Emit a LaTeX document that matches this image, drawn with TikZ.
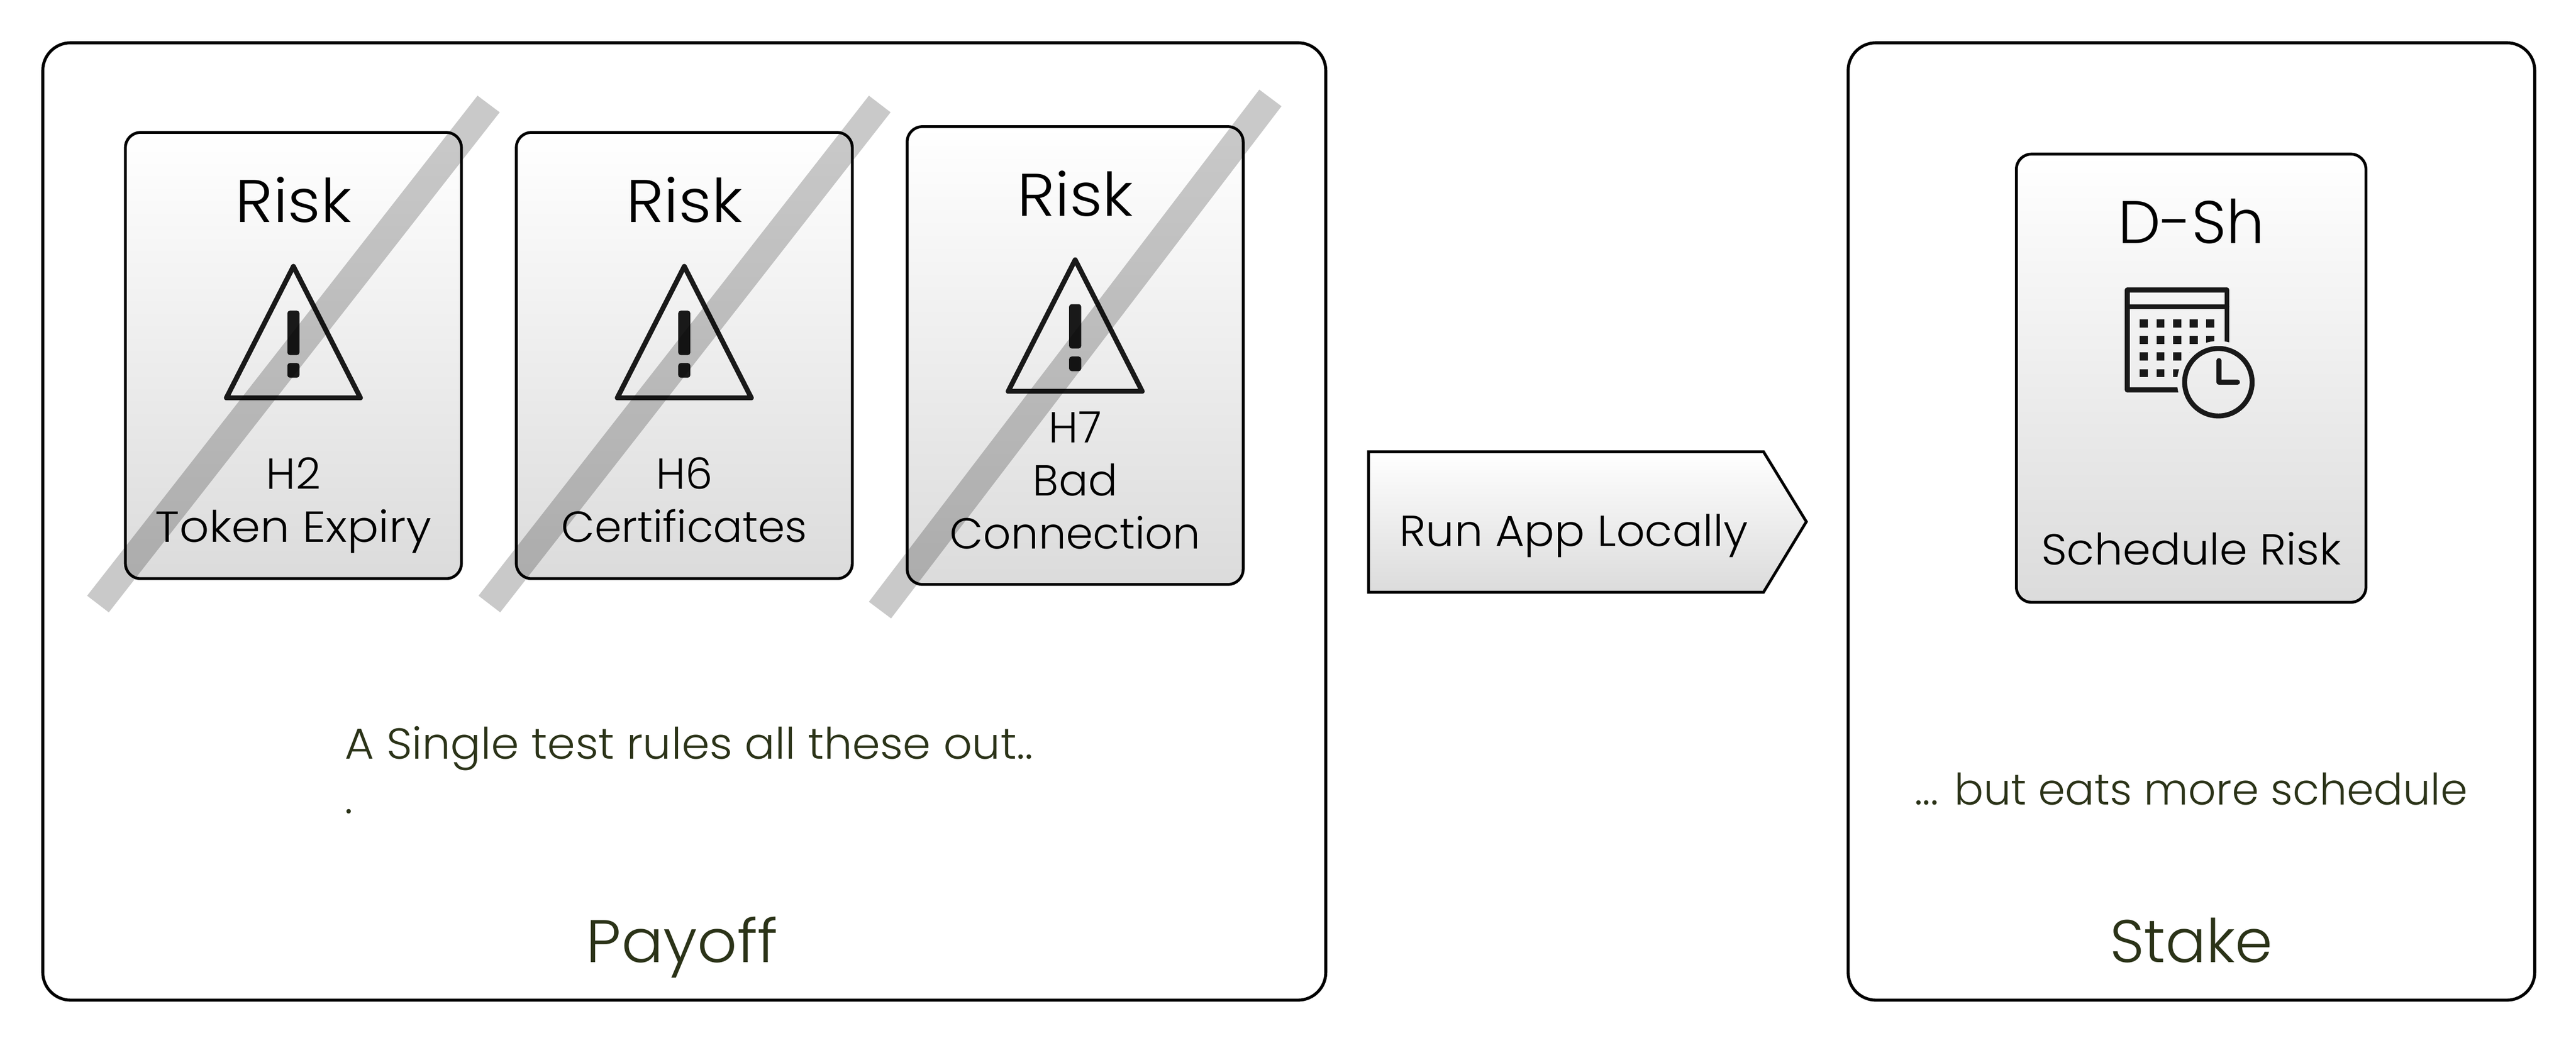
\documentclass[tikz,border=0pt]{standalone}
\usepackage{fontspec}
\setmainfont{Poppins Light}
\newfontfamily\wideface{Poppins Light}[FakeStretch=1.07]
\newfontfamily\midface{Poppins Light}[FakeStretch=1.035]
\usetikzlibrary{positioning}
\definecolor{olivetext}{HTML}{2B3318}
\tikzset{
  panel/.style={draw=black, line width=1.7pt, rounded corners=0.55cm},
  card/.style={draw=black, line width=1.6pt, rounded corners=0.3cm, top color=white, bottom color=black!14, minimum width=6.67cm},
  strike/.style={fill=black, fill opacity=0.21},
  icon/.style={draw=black!90, line width=2.8pt, line join=round, line cap=round},
  head/.style={font=\fontsize{34}{40}\selectfont, anchor=base},
  body/.style={font=\fontsize{24.5}{30}\selectfont, anchor=base, align=center},
  note/.style={font=\fontsize{24.5}{30}\selectfont, text=olivetext, anchor=base west, inner sep=0pt},
  caption/.style={font=\fontsize{34}{40}\selectfont, text=olivetext, anchor=base}
}
\begin{document}
\begin{tikzpicture}
  \useasboundingbox (0,0) rectangle (51.14,20.71);
  % outer boxes
  \node[panel, minimum width=25.47cm, minimum height=19.01cm] (payoffbox) at (13.585,10.355) {};
  \node[panel, minimum width=13.63cm, minimum height=19.01cm] (stakebox) at (43.505,10.355) {};
  % risk cards
  \foreach \n/\cx/\h in {1/5.825/8.86, 2/13.585/8.86, 3/21.345/9.09}{
    \node[card, minimum height=\h cm] (risk\n) at (\cx,13.65) {};
  }
  \node[head] (risklabel1) at (5.825,16.3) {\wideface Risk};
  \node[head] (risklabel2) at (13.585,16.3) {\wideface Risk};
  \node[head] (risklabel3) at (21.345,16.42) {\wideface Risk};
  \node[body] (hyp1) at (5.825,9.94) {H2\\\wideface Token Expiry};
  \node[body] (hyp2) at (13.585,9.94) {H6\\Certificates};
  \node[body] (hyp3) at (21.345,9.81) {H7\\Bad\\Connection};
  % warning triangles
  \foreach \cx/\dy in {5.825/0, 13.585/0, 21.345/0.13}{
    \begin{scope}[shift={(\cx,\dy)}]
      \draw[icon] (0,15.42) -- (-1.33,12.81) -- (1.33,12.81) -- cycle;
      \fill[black!90, rounded corners=0.05cm] (-0.12,14.54) rectangle (0.12,13.66);
      \fill[black!90, rounded corners=0.05cm] (-0.12,13.5) rectangle (0.12,13.21);
    \end{scope}
  }
  % strike bars
  \fill[strike] (9.48,18.81) -- (9.92,18.48) -- (2.16,8.55) -- (1.73,8.88) -- cycle;
  \fill[strike] (17.25,18.81) -- (17.68,18.48) -- (9.93,8.55) -- (9.5,8.88) -- cycle;
  \fill[strike] (25.0,18.93) -- (25.44,18.6) -- (17.69,8.43) -- (17.25,8.76) -- cycle;
  % arrow in the middle
  \draw[line width=1.6pt, top color=white, bottom color=black!14] (27.17,11.74) -- (35.01,11.74) -- (35.86,10.35) -- (35.01,8.95) -- (27.17,8.95) -- cycle;
  \node[body, anchor=base west, inner sep=0pt] (runapp) at (27.78,9.86) {\midface Run App Locally};
  % schedule card
  \node[card, minimum width=6.94cm, minimum height=8.9cm] (dsh) at (43.5,13.2) {};
  \node[head] (dshlabel) at (43.5,15.88) {D-Sh};
  \node[body] (schedrisk) at (43.5,9.5) {\midface Schedule Risk};
  % calendar with the clock cut out
  \begin{scope}[even odd rule]
    \clip (41,12) rectangle (45,16) (44.04,13.12) circle (0.82);
    \draw[icon] (42.23,14.95) rectangle (44.21,12.97);
    \draw[icon] (42.23,14.62) -- (44.21,14.62);
    \foreach \col in {0,...,4}
      \foreach \row in {0,...,3}
        \fill[black!90] ({42.56+0.33*\col-0.08},{14.29-0.33*\row-0.08}) rectangle +(0.16,0.16);
  \end{scope}
  \draw[icon] (44.04,13.12) circle (0.67);
  \draw[icon] (44.05,13.55) -- (44.05,13.12) -- (44.42,13.12);
  % notes and captions
  \node[note] (note1) at (6.84,5.64) {\midface A Single test rules all these out..};
  \node[note] (note2) at (6.84,4.56) {.};
  \node[note, anchor=base] (note3) at (43.5,4.73) {... but eats more schedule};
  \node[caption] (payofflabel) at (13.54,1.6) {\midface Payoff};
  \node[caption] (stakelabel) at (43.5,1.6) {Stake};
\end{tikzpicture}
\end{document}
